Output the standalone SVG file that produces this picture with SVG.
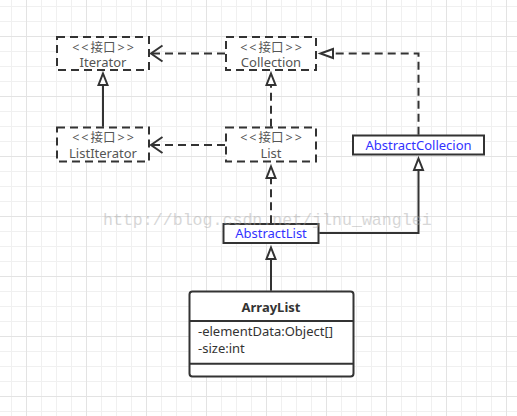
<svg xmlns="http://www.w3.org/2000/svg" width="517" height="416" viewBox="0 0 517 416">
<defs>
<pattern id="grid" patternUnits="userSpaceOnUse" x="26" y="36" width="60" height="60">
<rect x="15" y="0" width="1" height="60" fill="#f0f0f0"/>
<rect x="30" y="0" width="1" height="60" fill="#f0f0f0"/>
<rect x="45" y="0" width="1" height="60" fill="#f0f0f0"/>
<rect x="0" y="15" width="60" height="1" fill="#f0f0f0"/>
<rect x="0" y="30" width="60" height="1" fill="#f0f0f0"/>
<rect x="0" y="45" width="60" height="1" fill="#f0f0f0"/>
<rect x="0" y="0" width="1" height="60" fill="#e3e3e3"/>
<rect x="0" y="0" width="60" height="1" fill="#e3e3e3"/>
</pattern>
</defs>
<style>
.iface{fill:#fff;stroke:#333;stroke-width:2;stroke-dasharray:8 5}
.cls{fill:#fff;stroke:#333;stroke-width:2}
.lbl{font-family:"Noto Sans","Noto Sans CJK SC",sans-serif;font-size:13px;fill:#555;text-anchor:middle}
.st{font-size:12.5px}
.blue{font-family:"Noto Sans","Noto Sans CJK SC",sans-serif;font-size:13px;fill:#3232ff;text-anchor:middle}
.bold{font-family:"Noto Sans","Noto Sans CJK SC",sans-serif;font-size:13px;font-weight:bold;fill:#333;text-anchor:middle}
.attr{font-family:"Noto Sans","Noto Sans CJK SC",sans-serif;font-size:13px;fill:#333}
.dash{fill:none;stroke:#333;stroke-width:2;stroke-dasharray:8 5}
.solid{fill:none;stroke:#333;stroke-width:2}
.tri{fill:#fff;stroke:#333;stroke-width:2;stroke-linejoin:miter}
.open{fill:none;stroke:#333;stroke-width:2}
.wm{font-family:"Liberation Mono",monospace;font-size:16.6px;fill:#a8a8a8;opacity:0.45}
</style>
<rect width="517" height="416" fill="#fff"/>
<rect width="517" height="416" fill="url(#grid)"/>
<g id="connectors">
<path class="dash" d="M225,53.5 H152"/>
<path class="open" d="M162.5,45.5 L151,53.5 L162.5,61.5"/>
<path class="solid" d="M103,126.7 V85"/>
<path class="tri" d="M103,73.5 L107.5,85 L98.5,85 Z"/>
<path class="dash" d="M225,145 H152"/>
<path class="open" d="M162.5,137 L151,145 L162.5,153"/>
<path class="dash" d="M271,126.7 V85"/>
<path class="tri" d="M271,73.5 L275.5,85 L266.5,85 Z"/>
<path class="dash" d="M418.5,134.7 V53.5 H333"/>
<path class="tri" d="M320.5,53.5 L333,49 L333,58 Z"/>
<path class="dash" d="M271,223.3 V178"/>
<path class="tri" d="M271,166.5 L275.5,178 L266.5,178 Z"/>
<path class="solid" d="M319.3,233 H418.5 V170"/>
<path class="tri" d="M418.5,158.5 L423,170 L414,170 Z"/>
<path class="solid" d="M271,290.7 V259"/>
<path class="tri" d="M271,247.5 L275.5,259 L266.5,259 Z"/>
</g>
<g id="iterator">
<rect class="iface" x="57" y="37" width="92" height="33"/>
<text class="lbl st" x="103" y="51.5" dx="0 2 2 0 2 2">&lt;&lt;接口&gt;&gt;</text>
<text class="lbl" x="103" y="66.9">Iterator</text>
</g>
<g id="collection">
<rect class="iface" x="226" y="37" width="90" height="33"/>
<text class="lbl st" x="271" y="51.5" dx="0 2 2 0 2 2">&lt;&lt;接口&gt;&gt;</text>
<text class="lbl" x="271" y="66.9">Collection</text>
</g>
<g id="listiterator">
<rect class="iface" x="57" y="127.5" width="92" height="34"/>
<text class="lbl st" x="103" y="142.2" dx="0 2 2 0 2 2">&lt;&lt;接口&gt;&gt;</text>
<text class="lbl" x="103" y="158">ListIterator</text>
</g>
<g id="list">
<rect class="iface" x="226" y="127.5" width="90" height="34"/>
<text class="lbl st" x="271" y="142.2" dx="0 2 2 0 2 2">&lt;&lt;接口&gt;&gt;</text>
<text class="lbl" x="271" y="158">List</text>
</g>
<g id="abstractcollecion">
<rect class="cls" x="353" y="135.5" width="131" height="19"/>
<text class="blue" x="418.5" y="150">AbstractCollecion</text>
</g>
<g id="abstractlist">
<rect class="cls" x="223.5" y="224" width="95" height="19"/>
<text class="blue" x="271" y="237.6">AbstractList</text>
</g>
<g id="arraylist">
<rect class="cls" x="189.5" y="291.5" width="164" height="85" rx="3"/>
<path class="solid" d="M189.5,321 H353.5 M189.5,363.7 H353.5"/>
<text class="bold" x="271" y="311.5">ArrayList</text>
<text class="attr" x="198" y="336">-elementData:Object[]</text>
<text class="attr" x="198" y="352.7">-size:int</text>
</g>
<text class="wm" x="103" y="225">http://blog.csdn.net/jlnu_wanglei</text>
</svg>
